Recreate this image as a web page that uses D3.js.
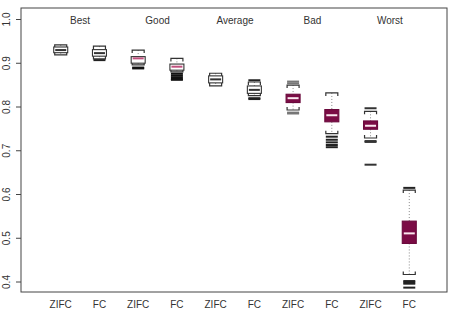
<!DOCTYPE html>
<html>
<head>
<meta charset="utf-8">
<script src="https://cdn.jsdelivr.net/npm/d3@7"></script>
<style>
  body { margin: 0; background: white; }
  text { font-family: "Liberation Sans", Arial, sans-serif; fill: #333; }
  .frame { fill: none; stroke: #444; stroke-width: 1px; }
  .whisker { stroke: #888; stroke-dasharray: 1,2; }
</style>
</head>
<body>
<svg id="chart" width="457" height="326"></svg>
<script>
// box labels, left to right
var boxLabels = ["ZIFC", "FC", "ZIFC", "FC", "ZIFC", "FC", "ZIFC", "FC", "ZIFC", "FC"];
var groups = ["Best", "Good", "Average", "Bad", "Worst"];
var yTicks = [0.4, 0.5, 0.6, 0.7, 0.8, 0.9, 1.0];

// five-number summaries
var whiskerHi = [0.941, 0.938, 0.929, 0.910, 0.876, 0.856, 0.849, 0.831, 0.789, 0.609];
var q3        = [0.936, 0.930, 0.914, 0.897, 0.870, 0.847, 0.828, 0.793, 0.767, 0.538];
var medians   = [0.929, 0.922, 0.910, 0.891, 0.862, 0.838, 0.819, 0.780, 0.756, 0.510];
var q1        = [0.923, 0.915, 0.899, 0.883, 0.854, 0.830, 0.809, 0.765, 0.748, 0.487];
var whiskerLo = [0.918, 0.909, 0.895, 0.879, 0.847, 0.825, 0.792, 0.738, 0.728, 0.416];
var outliers  = [
  [],
  [0.906],
  [0.889, 0.887],
  [0.875, 0.871, 0.867, 0.863, 0.861],
  [],
  [0.860, 0.819, 0.817],
  [0.857, 0.853, 0.786, 0.784],
  [0.731, 0.724, 0.718, 0.712, 0.707],
  [0.796, 0.721, 0.719, 0.667],
  [0.614, 0.401, 0.398, 0.395, 0.386]
];

// styling per box
var fills    = ["#fff", "#fff", "#fff", "#fff", "#fff", "#fff", "#7b0c45", "#7b0c45", "#7b0c45", "#7b0c45"];
var borders  = ["#333", "#333", "#333", "#333", "#333", "#333", "#6a0a3c", "#6a0a3c", "#6a0a3c", "#6a0a3c"];
var medCols  = ["#333", "#333", "#c0507e", "#c0507e", "#333", "#333", "#fbe8ef", "#fbe8ef", "#fbe8ef", "#fbe8ef"];
var outCols  = ["#222", "#222", "#111", "#111", "#222", "#222", "#777", "#222", "#333", "#222"];

var mLeft = 21, mRight = 447, mTop = 8, mBottom = 292;
var svg = d3.select("#chart");

var x = d3.scaleLinear().domain([0, 11]).range([22, 448]);
var y = d3.scaleLinear().domain([0.4, 1.0]).range([281.5, 19]);
var boxW = 14, capW = 12, capTick = 3;

// frame
svg.append("rect").attr("class", "frame")
  .attr("x", mLeft).attr("y", mTop)
  .attr("width", mRight - mLeft).attr("height", mBottom - mTop);

// y axis
var yAxis = d3.axisLeft(y).tickValues(yTicks).tickFormat(d3.format(".1f")).tickSize(5);
var yg = svg.append("g").attr("transform", "translate(" + mLeft + ",0)").call(yAxis);
yg.select(".domain").remove();
yg.selectAll("line").attr("stroke", "#444");
yg.selectAll("text")
  .attr("font-size", 10).attr("fill", "#333").attr("font-family", "Liberation Sans, Arial, sans-serif")
  .attr("x", -14).attr("dy", "0.32em").attr("text-anchor", "middle")
  .attr("transform", "rotate(-90,-14,0)");

// x labels
svg.append("g").selectAll("text").data(boxLabels).enter().append("text")
  .attr("x", function(d, i) { return x(i + 1); })
  .attr("y", 308)
  .attr("text-anchor", "middle").attr("font-size", 10)
  .text(function(d) { return d; });

// group labels
svg.append("g").selectAll("text").data(groups).enter().append("text")
  .attr("x", function(d, i) { return (x(2 * i + 1) + x(2 * i + 2)) / 2; })
  .attr("y", 24)
  .attr("text-anchor", "middle").attr("font-size", 10)
  .text(function(d) { return d; });

// boxes
var idx = d3.range(boxLabels.length);
var bx = svg.append("g").selectAll("g").data(idx).enter().append("g");

bx.append("line").attr("class", "whisker")
  .attr("x1", function(i) { return x(i + 1); }).attr("x2", function(i) { return x(i + 1); })
  .attr("y1", function(i) { return y(whiskerHi[i]); }).attr("y2", function(i) { return y(q3[i]); });
bx.append("line").attr("class", "whisker")
  .attr("x1", function(i) { return x(i + 1); }).attr("x2", function(i) { return x(i + 1); })
  .attr("y1", function(i) { return y(q1[i]); }).attr("y2", function(i) { return y(whiskerLo[i]); });

// bracket caps
bx.append("path")
  .attr("fill", "none").attr("stroke", "#333").attr("stroke-width", 1.2)
  .attr("d", function(i) {
    var cx = x(i + 1), yy = y(whiskerHi[i]);
    return "M" + (cx - capW / 2) + "," + (yy + capTick) + "V" + yy + "H" + (cx + capW / 2) + "V" + (yy + capTick);
  });
bx.append("path")
  .attr("fill", "none").attr("stroke", "#333").attr("stroke-width", 1.2)
  .attr("d", function(i) {
    var cx = x(i + 1), yy = y(whiskerLo[i]);
    return "M" + (cx - capW / 2) + "," + (yy - capTick) + "V" + yy + "H" + (cx + capW / 2) + "V" + (yy - capTick);
  });

bx.append("rect")
  .attr("x", function(i) { return x(i + 1) - boxW / 2; })
  .attr("y", function(i) { return y(q3[i]); })
  .attr("width", boxW)
  .attr("height", function(i) { return y(q1[i]) - y(q3[i]); })
  .attr("fill", function(i) { return fills[i]; })
  .attr("stroke", function(i) { return borders[i]; })
  .attr("stroke-width", 1.1);

bx.append("line")
  .attr("x1", function(i) { return x(i + 1) - boxW / 2 + 1.5; })
  .attr("x2", function(i) { return x(i + 1) + boxW / 2 - 1.5; })
  .attr("y1", function(i) { return y(medians[i]); })
  .attr("y2", function(i) { return y(medians[i]); })
  .attr("stroke", function(i) { return medCols[i]; })
  .attr("stroke-width", 2);

// outliers drawn as dashes
bx.each(function(i) {
  d3.select(this).selectAll("line.out").data(outliers[i]).enter().append("line")
    .attr("class", "out")
    .attr("x1", x(i + 1) - capW / 2).attr("x2", x(i + 1) + capW / 2)
    .attr("y1", function(d) { return y(d); }).attr("y2", function(d) { return y(d); })
    .attr("stroke", outCols[i]).attr("stroke-width", 2);
});
</script>
</body>
</html>
